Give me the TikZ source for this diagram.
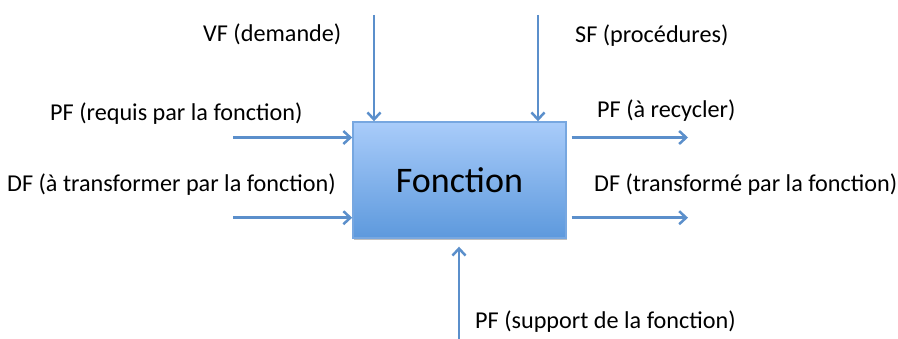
\documentclass[tikz,border=0pt]{standalone}
\usepackage{fontspec}
\setmainfont{Carlito}
\usetikzlibrary{arrows.meta,shadows}
\definecolor{arrowblue}{HTML}{5B8FCB}
\definecolor{boxtop}{HTML}{A9CCFA}
\definecolor{boxbot}{HTML}{5D99DD}
\definecolor{boxline}{HTML}{77A7E0}
\tikzset{
  flow/.style={draw=arrowblue, line width=2.5pt, -{Straight Barb[length=7pt,width=13pt]}},
  lbl/.style={inner sep=0pt, font=\fontsize{24.2}{27}\selectfont, anchor=base west},
  fbox/.style={rectangle, draw=boxline, line width=1.4pt, top color=boxtop, bottom color=boxbot,
    minimum width=213pt, minimum height=116pt, inner sep=0pt,
    font=\fontsize{36}{40}\selectfont,
    drop shadow={shadow xshift=1pt, shadow yshift=-2pt, opacity=0.25, fill=black}}
}
\begin{document}
\begin{tikzpicture}[x=1pt,y=-1pt]
\useasboundingbox (0,0) rectangle (898,339);
\node[fbox] (f) at (459.4,180) {Fonction};
% free ends
\coordinate (tl) at (374,15);
\coordinate (tr) at (538,15);
\coordinate (b) at (459,339);
\coordinate (l1) at (233,137.5);
\coordinate (l2) at (233,217.7);
\coordinate (r1) at (688,137.5);
\coordinate (r2) at (688,217.7);
\draw[flow] (tl) -- (tl |- f.north);
\draw[flow] (tr) -- (tr |- f.north);
\draw[flow] (b) -- ([yshift=-8pt]b |- f.south);
\draw[flow] (l1) -- (l1 -| f.west);
\draw[flow] (l2) -- (l2 -| f.west);
\draw[flow] ([xshift=5pt]r1 -| f.east) -- (r1);
\draw[flow] ([xshift=5pt]r2 -| f.east) -- (r2);
% labels
\node[lbl] (vf) at (203,42) {VF (demande)};
\node[lbl] (sf) at (575,43) {SF (procédures)};
\node[lbl] (pfr) at (50,121) {PF (requis par la fonction)};
\node[lbl] (dft) at (7,192) {DF (à transformer par la fonction)};
\node[lbl] (pfc) at (597,118) {PF (à recycler)};
\node[lbl] (dfe) at (594,192) {DF (transformé par la fonction)};
\node[lbl] (pfs) at (475,329) {PF (support de la fonction)};
\end{tikzpicture}
\end{document}
